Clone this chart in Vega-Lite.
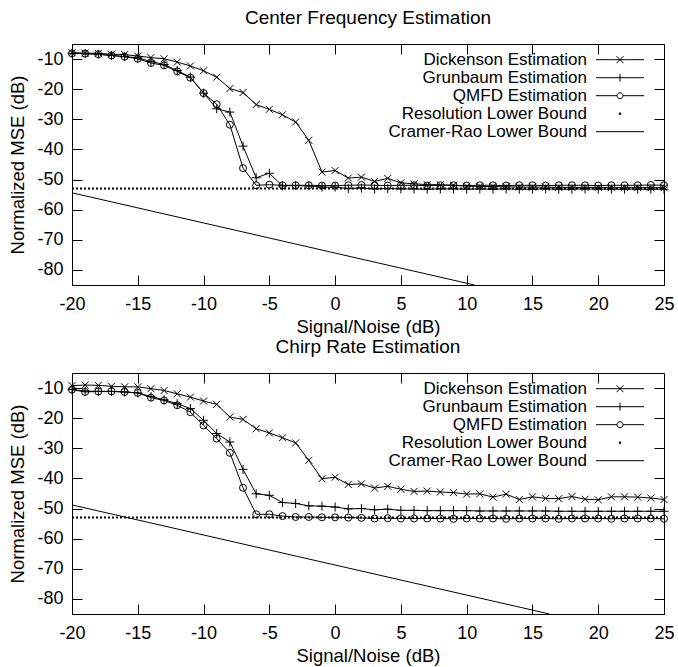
{
"$schema": "https://vega.github.io/schema/vega-lite/v6.json",
"padding": {"left": 8, "top": 8, "right": 5, "bottom": 5},
"spacing": 1,
"datasets": {"d": [
{"p":"cf","s":"D","x":-20,"y":-7.9},{"p":"cf","s":"D","x":-19,"y":-8.0},{"p":"cf","s":"D","x":-18,"y":-8.1},{"p":"cf","s":"D","x":-17,"y":-8.4},{"p":"cf","s":"D","x":-16,"y":-8.5},{"p":"cf","s":"D","x":-15,"y":-9.0},{"p":"cf","s":"D","x":-14,"y":-9.5},{"p":"cf","s":"D","x":-13,"y":-9.9},{"p":"cf","s":"D","x":-12,"y":-11.0},{"p":"cf","s":"D","x":-11,"y":-12.3},{"p":"cf","s":"D","x":-10,"y":-13.9},{"p":"cf","s":"D","x":-9,"y":-16.0},{"p":"cf","s":"D","x":-8,"y":-19.8},{"p":"cf","s":"D","x":-7,"y":-21.1},{"p":"cf","s":"D","x":-6,"y":-25.1},{"p":"cf","s":"D","x":-5,"y":-26.7},{"p":"cf","s":"D","x":-4,"y":-28.5},{"p":"cf","s":"D","x":-3,"y":-30.9},{"p":"cf","s":"D","x":-2,"y":-37.0},{"p":"cf","s":"D","x":-1,"y":-47.5},{"p":"cf","s":"D","x":0,"y":-47.0},{"p":"cf","s":"D","x":1,"y":-49.5},{"p":"cf","s":"D","x":2,"y":-49.2},{"p":"cf","s":"D","x":3,"y":-50.6},{"p":"cf","s":"D","x":4,"y":-49.6},{"p":"cf","s":"D","x":5,"y":-51.1},{"p":"cf","s":"D","x":6,"y":-51.4},{"p":"cf","s":"D","x":7,"y":-51.7},{"p":"cf","s":"D","x":8,"y":-51.7},{"p":"cf","s":"D","x":9,"y":-51.9},{"p":"cf","s":"D","x":10,"y":-52.2},{"p":"cf","s":"D","x":11,"y":-52.3},{"p":"cf","s":"D","x":12,"y":-52.3},{"p":"cf","s":"D","x":13,"y":-52.4},{"p":"cf","s":"D","x":14,"y":-52.5},{"p":"cf","s":"D","x":15,"y":-52.5},{"p":"cf","s":"D","x":16,"y":-52.5},{"p":"cf","s":"D","x":17,"y":-52.6},{"p":"cf","s":"D","x":18,"y":-52.6},{"p":"cf","s":"D","x":19,"y":-52.6},{"p":"cf","s":"D","x":20,"y":-52.6},{"p":"cf","s":"D","x":21,"y":-52.7},{"p":"cf","s":"D","x":22,"y":-52.7},{"p":"cf","s":"D","x":23,"y":-52.7},{"p":"cf","s":"D","x":24,"y":-52.7},{"p":"cf","s":"D","x":25,"y":-52.7},
{"p":"cf","s":"G","x":-20,"y":-8.1},{"p":"cf","s":"G","x":-19,"y":-8.2},{"p":"cf","s":"G","x":-18,"y":-8.4},{"p":"cf","s":"G","x":-17,"y":-8.8},{"p":"cf","s":"G","x":-16,"y":-9.2},{"p":"cf","s":"G","x":-15,"y":-9.6},{"p":"cf","s":"G","x":-14,"y":-10.8},{"p":"cf","s":"G","x":-13,"y":-11.8},{"p":"cf","s":"G","x":-12,"y":-13.8},{"p":"cf","s":"G","x":-11,"y":-16.0},{"p":"cf","s":"G","x":-10,"y":-21.3},{"p":"cf","s":"G","x":-9,"y":-26.5},{"p":"cf","s":"G","x":-8,"y":-27.6},{"p":"cf","s":"G","x":-7,"y":-38.9},{"p":"cf","s":"G","x":-6,"y":-49.4},{"p":"cf","s":"G","x":-5,"y":-47.9},{"p":"cf","s":"G","x":-4,"y":-52.1},{"p":"cf","s":"G","x":-3,"y":-52.0},{"p":"cf","s":"G","x":-2,"y":-52.1},{"p":"cf","s":"G","x":-1,"y":-52.5},{"p":"cf","s":"G","x":0,"y":-52.5},{"p":"cf","s":"G","x":1,"y":-53.0},{"p":"cf","s":"G","x":2,"y":-52.8},{"p":"cf","s":"G","x":3,"y":-53.1},{"p":"cf","s":"G","x":4,"y":-53.0},{"p":"cf","s":"G","x":5,"y":-53.1},{"p":"cf","s":"G","x":6,"y":-53.1},{"p":"cf","s":"G","x":7,"y":-53.2},{"p":"cf","s":"G","x":8,"y":-53.1},{"p":"cf","s":"G","x":9,"y":-53.1},{"p":"cf","s":"G","x":10,"y":-53.2},{"p":"cf","s":"G","x":11,"y":-53.1},{"p":"cf","s":"G","x":12,"y":-53.2},{"p":"cf","s":"G","x":13,"y":-53.1},{"p":"cf","s":"G","x":14,"y":-53.2},{"p":"cf","s":"G","x":15,"y":-53.2},{"p":"cf","s":"G","x":16,"y":-53.1},{"p":"cf","s":"G","x":17,"y":-53.2},{"p":"cf","s":"G","x":18,"y":-53.2},{"p":"cf","s":"G","x":19,"y":-53.1},{"p":"cf","s":"G","x":20,"y":-53.2},{"p":"cf","s":"G","x":21,"y":-53.2},{"p":"cf","s":"G","x":22,"y":-53.2},{"p":"cf","s":"G","x":23,"y":-53.2},{"p":"cf","s":"G","x":24,"y":-53.2},{"p":"cf","s":"G","x":25,"y":-53.2},
{"p":"cf","s":"Q","x":-20,"y":-8.1},{"p":"cf","s":"Q","x":-19,"y":-8.2},{"p":"cf","s":"Q","x":-18,"y":-8.4},{"p":"cf","s":"Q","x":-17,"y":-8.8},{"p":"cf","s":"Q","x":-16,"y":-9.2},{"p":"cf","s":"Q","x":-15,"y":-9.9},{"p":"cf","s":"Q","x":-14,"y":-11.3},{"p":"cf","s":"Q","x":-13,"y":-12.1},{"p":"cf","s":"Q","x":-12,"y":-14.1},{"p":"cf","s":"Q","x":-11,"y":-16.2},{"p":"cf","s":"Q","x":-10,"y":-21.3},{"p":"cf","s":"Q","x":-9,"y":-25.0},{"p":"cf","s":"Q","x":-8,"y":-31.8},{"p":"cf","s":"Q","x":-7,"y":-46.2},{"p":"cf","s":"Q","x":-6,"y":-51.9},{"p":"cf","s":"Q","x":-5,"y":-51.7},{"p":"cf","s":"Q","x":-4,"y":-51.9},{"p":"cf","s":"Q","x":-3,"y":-51.9},{"p":"cf","s":"Q","x":-2,"y":-51.9},{"p":"cf","s":"Q","x":-1,"y":-52.0},{"p":"cf","s":"Q","x":0,"y":-52.0},{"p":"cf","s":"Q","x":1,"y":-51.9},{"p":"cf","s":"Q","x":2,"y":-51.8},{"p":"cf","s":"Q","x":3,"y":-51.9},{"p":"cf","s":"Q","x":4,"y":-52.0},{"p":"cf","s":"Q","x":5,"y":-51.9},{"p":"cf","s":"Q","x":6,"y":-51.9},{"p":"cf","s":"Q","x":7,"y":-52.0},{"p":"cf","s":"Q","x":8,"y":-51.9},{"p":"cf","s":"Q","x":9,"y":-51.9},{"p":"cf","s":"Q","x":10,"y":-52.0},{"p":"cf","s":"Q","x":11,"y":-51.9},{"p":"cf","s":"Q","x":12,"y":-51.9},{"p":"cf","s":"Q","x":13,"y":-52.0},{"p":"cf","s":"Q","x":14,"y":-51.9},{"p":"cf","s":"Q","x":15,"y":-51.9},{"p":"cf","s":"Q","x":16,"y":-52.0},{"p":"cf","s":"Q","x":17,"y":-51.9},{"p":"cf","s":"Q","x":18,"y":-51.9},{"p":"cf","s":"Q","x":19,"y":-51.9},{"p":"cf","s":"Q","x":20,"y":-52.0},{"p":"cf","s":"Q","x":21,"y":-51.9},{"p":"cf","s":"Q","x":22,"y":-51.9},{"p":"cf","s":"Q","x":23,"y":-51.9},{"p":"cf","s":"Q","x":24,"y":-51.8},{"p":"cf","s":"Q","x":25,"y":-51.9},
{"p":"cf","s":"R","x":-20,"y":-53.0},{"p":"cf","s":"R","x":25,"y":-53.0},
{"p":"cf","s":"C","x":-20,"y":-54.4},{"p":"cf","s":"C","x":10.6,"y":-85.0},
{"p":"cr","s":"D","x":-20,"y":-9.2},{"p":"cr","s":"D","x":-19,"y":-9.0},{"p":"cr","s":"D","x":-18,"y":-9.1},{"p":"cr","s":"D","x":-17,"y":-9.4},{"p":"cr","s":"D","x":-16,"y":-9.6},{"p":"cr","s":"D","x":-15,"y":-9.6},{"p":"cr","s":"D","x":-14,"y":-10.2},{"p":"cr","s":"D","x":-13,"y":-10.8},{"p":"cr","s":"D","x":-12,"y":-11.9},{"p":"cr","s":"D","x":-11,"y":-13.0},{"p":"cr","s":"D","x":-10,"y":-14.3},{"p":"cr","s":"D","x":-9,"y":-15.4},{"p":"cr","s":"D","x":-8,"y":-19.6},{"p":"cr","s":"D","x":-7,"y":-20.4},{"p":"cr","s":"D","x":-6,"y":-23.5},{"p":"cr","s":"D","x":-5,"y":-24.9},{"p":"cr","s":"D","x":-4,"y":-26.5},{"p":"cr","s":"D","x":-3,"y":-28.2},{"p":"cr","s":"D","x":-2,"y":-34.0},{"p":"cr","s":"D","x":-1,"y":-40.1},{"p":"cr","s":"D","x":0,"y":-39.6},{"p":"cr","s":"D","x":1,"y":-42.0},{"p":"cr","s":"D","x":2,"y":-41.8},{"p":"cr","s":"D","x":3,"y":-43.2},{"p":"cr","s":"D","x":4,"y":-42.6},{"p":"cr","s":"D","x":5,"y":-43.6},{"p":"cr","s":"D","x":6,"y":-44.3},{"p":"cr","s":"D","x":7,"y":-44.2},{"p":"cr","s":"D","x":8,"y":-44.5},{"p":"cr","s":"D","x":9,"y":-44.7},{"p":"cr","s":"D","x":10,"y":-45.2},{"p":"cr","s":"D","x":11,"y":-45.1},{"p":"cr","s":"D","x":12,"y":-46.2},{"p":"cr","s":"D","x":13,"y":-45.2},{"p":"cr","s":"D","x":14,"y":-47.0},{"p":"cr","s":"D","x":15,"y":-46.1},{"p":"cr","s":"D","x":16,"y":-46.6},{"p":"cr","s":"D","x":17,"y":-46.7},{"p":"cr","s":"D","x":18,"y":-46.0},{"p":"cr","s":"D","x":19,"y":-46.9},{"p":"cr","s":"D","x":20,"y":-47.1},{"p":"cr","s":"D","x":21,"y":-46.1},{"p":"cr","s":"D","x":22,"y":-46.1},{"p":"cr","s":"D","x":23,"y":-46.2},{"p":"cr","s":"D","x":24,"y":-46.5},{"p":"cr","s":"D","x":25,"y":-47.0},
{"p":"cr","s":"G","x":-20,"y":-10.5},{"p":"cr","s":"G","x":-19,"y":-11.0},{"p":"cr","s":"G","x":-18,"y":-11.1},{"p":"cr","s":"G","x":-17,"y":-11.1},{"p":"cr","s":"G","x":-16,"y":-11.3},{"p":"cr","s":"G","x":-15,"y":-11.6},{"p":"cr","s":"G","x":-14,"y":-12.8},{"p":"cr","s":"G","x":-13,"y":-13.9},{"p":"cr","s":"G","x":-12,"y":-15.2},{"p":"cr","s":"G","x":-11,"y":-16.8},{"p":"cr","s":"G","x":-10,"y":-20.7},{"p":"cr","s":"G","x":-9,"y":-25.1},{"p":"cr","s":"G","x":-8,"y":-27.9},{"p":"cr","s":"G","x":-7,"y":-37.0},{"p":"cr","s":"G","x":-6,"y":-45.1},{"p":"cr","s":"G","x":-5,"y":-45.6},{"p":"cr","s":"G","x":-4,"y":-48.0},{"p":"cr","s":"G","x":-3,"y":-48.3},{"p":"cr","s":"G","x":-2,"y":-49.1},{"p":"cr","s":"G","x":-1,"y":-49.2},{"p":"cr","s":"G","x":0,"y":-49.5},{"p":"cr","s":"G","x":1,"y":-50.1},{"p":"cr","s":"G","x":2,"y":-50.0},{"p":"cr","s":"G","x":3,"y":-50.4},{"p":"cr","s":"G","x":4,"y":-50.2},{"p":"cr","s":"G","x":5,"y":-50.6},{"p":"cr","s":"G","x":6,"y":-50.6},{"p":"cr","s":"G","x":7,"y":-50.7},{"p":"cr","s":"G","x":8,"y":-50.7},{"p":"cr","s":"G","x":9,"y":-50.7},{"p":"cr","s":"G","x":10,"y":-50.7},{"p":"cr","s":"G","x":11,"y":-50.8},{"p":"cr","s":"G","x":12,"y":-50.8},{"p":"cr","s":"G","x":13,"y":-50.8},{"p":"cr","s":"G","x":14,"y":-50.8},{"p":"cr","s":"G","x":15,"y":-50.8},{"p":"cr","s":"G","x":16,"y":-50.8},{"p":"cr","s":"G","x":17,"y":-50.9},{"p":"cr","s":"G","x":18,"y":-50.9},{"p":"cr","s":"G","x":19,"y":-50.9},{"p":"cr","s":"G","x":20,"y":-50.9},{"p":"cr","s":"G","x":21,"y":-50.9},{"p":"cr","s":"G","x":22,"y":-50.9},{"p":"cr","s":"G","x":23,"y":-50.9},{"p":"cr","s":"G","x":24,"y":-50.9},{"p":"cr","s":"G","x":25,"y":-50.9},
{"p":"cr","s":"Q","x":-20,"y":-10.5},{"p":"cr","s":"Q","x":-19,"y":-11.3},{"p":"cr","s":"Q","x":-18,"y":-11.1},{"p":"cr","s":"Q","x":-17,"y":-11.1},{"p":"cr","s":"Q","x":-16,"y":-11.3},{"p":"cr","s":"Q","x":-15,"y":-11.6},{"p":"cr","s":"Q","x":-14,"y":-13.2},{"p":"cr","s":"Q","x":-13,"y":-14.1},{"p":"cr","s":"Q","x":-12,"y":-15.7},{"p":"cr","s":"Q","x":-11,"y":-18.0},{"p":"cr","s":"Q","x":-10,"y":-22.4},{"p":"cr","s":"Q","x":-9,"y":-26.8},{"p":"cr","s":"Q","x":-8,"y":-31.5},{"p":"cr","s":"Q","x":-7,"y":-43.1},{"p":"cr","s":"Q","x":-6,"y":-51.9},{"p":"cr","s":"Q","x":-5,"y":-51.9},{"p":"cr","s":"Q","x":-4,"y":-52.5},{"p":"cr","s":"Q","x":-3,"y":-52.8},{"p":"cr","s":"Q","x":-2,"y":-52.8},{"p":"cr","s":"Q","x":-1,"y":-52.9},{"p":"cr","s":"Q","x":0,"y":-52.9},{"p":"cr","s":"Q","x":1,"y":-53.0},{"p":"cr","s":"Q","x":2,"y":-53.1},{"p":"cr","s":"Q","x":3,"y":-53.3},{"p":"cr","s":"Q","x":4,"y":-53.2},{"p":"cr","s":"Q","x":5,"y":-53.3},{"p":"cr","s":"Q","x":6,"y":-53.3},{"p":"cr","s":"Q","x":7,"y":-53.3},{"p":"cr","s":"Q","x":8,"y":-53.3},{"p":"cr","s":"Q","x":9,"y":-53.4},{"p":"cr","s":"Q","x":10,"y":-53.3},{"p":"cr","s":"Q","x":11,"y":-53.3},{"p":"cr","s":"Q","x":12,"y":-53.3},{"p":"cr","s":"Q","x":13,"y":-53.4},{"p":"cr","s":"Q","x":14,"y":-53.3},{"p":"cr","s":"Q","x":15,"y":-53.3},{"p":"cr","s":"Q","x":16,"y":-53.3},{"p":"cr","s":"Q","x":17,"y":-53.4},{"p":"cr","s":"Q","x":18,"y":-53.3},{"p":"cr","s":"Q","x":19,"y":-53.3},{"p":"cr","s":"Q","x":20,"y":-53.3},{"p":"cr","s":"Q","x":21,"y":-53.4},{"p":"cr","s":"Q","x":22,"y":-53.3},{"p":"cr","s":"Q","x":23,"y":-53.3},{"p":"cr","s":"Q","x":24,"y":-53.3},{"p":"cr","s":"Q","x":25,"y":-53.4},
{"p":"cr","s":"R","x":-20,"y":-53.0},{"p":"cr","s":"R","x":25,"y":-53.0},
{"p":"cr","s":"C","x":-20,"y":-48.8},{"p":"cr","s":"C","x":16.3,"y":-85.0}
]},
"vconcat": [
{
"title": {"text": "Center Frequency Estimation"},
"width": 592, "height": 241,
"data": {"name": "d"},
"transform": [{"filter": "datum.p == 'cf'"}],
"resolve": {"axis": {"x": "independent", "y": "independent"}},
"layer": [
{"transform": [{"filter": "datum.s == 'D' || datum.s == 'G' || datum.s == 'Q'"}],
 "mark": {"type": "line", "color": "black", "strokeWidth": 1},
 "encoding": {
  "x": {"field": "x", "type": "quantitative", "scale": {"domain": [-20, 25], "nice": false, "zero": false}, "axis": {"title": "Signal/Noise (dB)", "values": [-20,-15,-10,-5,0,5,10,15,20,25], "ticks": false, "labelFlush": false, "labelOverlap": false, "labelExpr": "'' + datum.value"}},
  "y": {"field": "y", "type": "quantitative", "scale": {"domain": [-85, -5], "nice": false, "zero": false}, "axis": {"title": "Normalized MSE (dB)", "values": [-80,-70,-60,-50,-40,-30,-20,-10], "ticks": false, "labelOverlap": false, "labelExpr": "'' + datum.value"}},
  "detail": {"field": "s"}}},
{"transform": [{"filter": "datum.s == 'D'"}],
 "mark": {"type": "point", "shape": "M-1,-1L1,1M-1,1L1,-1", "size": 49, "filled": false, "color": "black", "strokeWidth": 1, "opacity": 1},
 "encoding": {
  "x": {"field": "x", "type": "quantitative", "scale": {"domain": [-20, 25], "nice": false, "zero": false}, "axis": {"orient": "top", "offset": -241, "labels": false, "title": null, "domain": false, "tickSize": 10, "values": [-20,-15,-10,-5,0,5,10,15,20,25]}},
  "y": {"field": "y", "type": "quantitative", "scale": {"domain": [-85, -5], "nice": false, "zero": false}, "axis": {"orient": "right", "offset": -592, "labels": false, "title": null, "domain": false, "tickSize": 10, "values": [-80,-70,-60,-50,-40,-30,-20,-10]}}}},
{"transform": [{"filter": "datum.s == 'G'"}],
 "mark": {"type": "point", "shape": "M-1,0H1M0,-1V1", "size": 81, "filled": false, "color": "black", "strokeWidth": 1, "opacity": 1},
 "encoding": {
  "x": {"field": "x", "type": "quantitative", "scale": {"domain": [-20, 25], "nice": false, "zero": false}, "axis": {"orient": "bottom", "offset": -241, "labels": false, "title": null, "domain": false, "tickSize": 10, "values": [-20,-15,-10,-5,0,5,10,15,20,25]}},
  "y": {"field": "y", "type": "quantitative", "scale": {"domain": [-85, -5], "nice": false, "zero": false}, "axis": {"orient": "left", "offset": -592, "labels": false, "title": null, "domain": false, "tickSize": 10, "values": [-80,-70,-60,-50,-40,-30,-20,-10]}}}},
{"transform": [{"filter": "datum.s == 'Q'"}],
 "mark": {"type": "point", "shape": "circle", "size": 49, "filled": false, "color": "black", "strokeWidth": 1, "opacity": 1},
 "encoding": {
  "x": {"field": "x", "type": "quantitative", "scale": {"domain": [-20, 25], "nice": false, "zero": false}, "axis": null},
  "y": {"field": "y", "type": "quantitative", "scale": {"domain": [-85, -5], "nice": false, "zero": false}, "axis": null}}},
{"transform": [{"filter": "datum.s == 'R'"}],
 "mark": {"type": "line", "color": "black", "strokeWidth": 2, "strokeDash": [2, 2]},
 "encoding": {
  "x": {"field": "x", "type": "quantitative", "scale": {"domain": [-20, 25], "nice": false, "zero": false}, "axis": null},
  "y": {"field": "y", "type": "quantitative", "scale": {"domain": [-85, -5], "nice": false, "zero": false}, "axis": null}}},
{"transform": [{"filter": "datum.s == 'C'"}],
 "mark": {"type": "line", "color": "black", "strokeWidth": 1},
 "encoding": {
  "x": {"field": "x", "type": "quantitative", "scale": {"domain": [-20, 25], "nice": false, "zero": false}, "axis": null},
  "y": {"field": "y", "type": "quantitative", "scale": {"domain": [-85, -5], "nice": false, "zero": false}, "axis": null}}},
{"mark": {"type": "point", "opacity": 0},
 "encoding": {
  "shape": {"field": "s", "type": "nominal",
   "scale": {"domain": ["D","G","Q","R","C"], "range": ["M-4.8,0H4.8M-0.7,-0.7L0.7,0.7M-0.7,0.7L0.7,-0.7", "M-4.8,0H4.8M0,-0.8V0.8", "M-4.8,0H-0.6A0.6,0.6,0,1,1,0.6,0H4.8M0.6,0A0.6,0.6,0,1,1,-0.6,0", "M-0.15,-0.15H0.15V0.15H-0.15Z", "M-4.8,0H4.8"]},
   "legend": {"title": null, "orient": "none", "legendX": 539.5, "legendY": 7.2, "padding": 0, "rowPadding": 0, "labelAlign": "right", "labelOffset": -41.5, "symbolSize": 100, "symbolStrokeColor": "black", "symbolStrokeWidth": 1, "symbolFillColor": "transparent", "symbolOpacity": 1, "labelFontSize": 17, "labelFont": "Liberation Sans", "labelColor": "black", "labelLimit": 400,
    "labelExpr": "datum.label == 'D' ? 'Dickenson Estimation' : datum.label == 'G' ? 'Grunbaum Estimation' : datum.label == 'Q' ? 'QMFD Estimation' : datum.label == 'R' ? 'Resolution Lower Bound' : 'Cramer-Rao Lower Bound'"}}}}
]
},
{
"title": {"text": "Chirp Rate Estimation"},
"width": 592, "height": 241,
"data": {"name": "d"},
"transform": [{"filter": "datum.p == 'cr'"}],
"resolve": {"axis": {"x": "independent", "y": "independent"}},
"layer": [
{"transform": [{"filter": "datum.s == 'D' || datum.s == 'G' || datum.s == 'Q'"}],
 "mark": {"type": "line", "color": "black", "strokeWidth": 1},
 "encoding": {
  "x": {"field": "x", "type": "quantitative", "scale": {"domain": [-20, 25], "nice": false, "zero": false}, "axis": {"title": "Signal/Noise (dB)", "values": [-20,-15,-10,-5,0,5,10,15,20,25], "ticks": false, "labelFlush": false, "labelOverlap": false, "labelExpr": "'' + datum.value"}},
  "y": {"field": "y", "type": "quantitative", "scale": {"domain": [-85, -5], "nice": false, "zero": false}, "axis": {"title": "Normalized MSE (dB)", "values": [-80,-70,-60,-50,-40,-30,-20,-10], "ticks": false, "labelOverlap": false, "labelExpr": "'' + datum.value"}},
  "detail": {"field": "s"}}},
{"transform": [{"filter": "datum.s == 'D'"}],
 "mark": {"type": "point", "shape": "M-1,-1L1,1M-1,1L1,-1", "size": 49, "filled": false, "color": "black", "strokeWidth": 1, "opacity": 1},
 "encoding": {
  "x": {"field": "x", "type": "quantitative", "scale": {"domain": [-20, 25], "nice": false, "zero": false}, "axis": {"orient": "top", "offset": -241, "labels": false, "title": null, "domain": false, "tickSize": 10, "values": [-20,-15,-10,-5,0,5,10,15,20,25]}},
  "y": {"field": "y", "type": "quantitative", "scale": {"domain": [-85, -5], "nice": false, "zero": false}, "axis": {"orient": "right", "offset": -592, "labels": false, "title": null, "domain": false, "tickSize": 10, "values": [-80,-70,-60,-50,-40,-30,-20,-10]}}}},
{"transform": [{"filter": "datum.s == 'G'"}],
 "mark": {"type": "point", "shape": "M-1,0H1M0,-1V1", "size": 81, "filled": false, "color": "black", "strokeWidth": 1, "opacity": 1},
 "encoding": {
  "x": {"field": "x", "type": "quantitative", "scale": {"domain": [-20, 25], "nice": false, "zero": false}, "axis": {"orient": "bottom", "offset": -241, "labels": false, "title": null, "domain": false, "tickSize": 10, "values": [-20,-15,-10,-5,0,5,10,15,20,25]}},
  "y": {"field": "y", "type": "quantitative", "scale": {"domain": [-85, -5], "nice": false, "zero": false}, "axis": {"orient": "left", "offset": -592, "labels": false, "title": null, "domain": false, "tickSize": 10, "values": [-80,-70,-60,-50,-40,-30,-20,-10]}}}},
{"transform": [{"filter": "datum.s == 'Q'"}],
 "mark": {"type": "point", "shape": "circle", "size": 49, "filled": false, "color": "black", "strokeWidth": 1, "opacity": 1},
 "encoding": {
  "x": {"field": "x", "type": "quantitative", "scale": {"domain": [-20, 25], "nice": false, "zero": false}, "axis": null},
  "y": {"field": "y", "type": "quantitative", "scale": {"domain": [-85, -5], "nice": false, "zero": false}, "axis": null}}},
{"transform": [{"filter": "datum.s == 'R'"}],
 "mark": {"type": "line", "color": "black", "strokeWidth": 2, "strokeDash": [2, 2]},
 "encoding": {
  "x": {"field": "x", "type": "quantitative", "scale": {"domain": [-20, 25], "nice": false, "zero": false}, "axis": null},
  "y": {"field": "y", "type": "quantitative", "scale": {"domain": [-85, -5], "nice": false, "zero": false}, "axis": null}}},
{"transform": [{"filter": "datum.s == 'C'"}],
 "mark": {"type": "line", "color": "black", "strokeWidth": 1},
 "encoding": {
  "x": {"field": "x", "type": "quantitative", "scale": {"domain": [-20, 25], "nice": false, "zero": false}, "axis": null},
  "y": {"field": "y", "type": "quantitative", "scale": {"domain": [-85, -5], "nice": false, "zero": false}, "axis": null}}},
{"mark": {"type": "point", "opacity": 0},
 "encoding": {
  "shape": {"field": "s", "type": "nominal",
   "scale": {"domain": ["D","G","Q","R","C"], "range": ["M-4.8,0H4.8M-0.7,-0.7L0.7,0.7M-0.7,0.7L0.7,-0.7", "M-4.8,0H4.8M0,-0.8V0.8", "M-4.8,0H-0.6A0.6,0.6,0,1,1,0.6,0H4.8M0.6,0A0.6,0.6,0,1,1,-0.6,0", "M-0.15,-0.15H0.15V0.15H-0.15Z", "M-4.8,0H4.8"]},
   "legend": {"title": null, "orient": "none", "legendX": 539.5, "legendY": 7.2, "padding": 0, "rowPadding": 0, "labelAlign": "right", "labelOffset": -41.5, "symbolSize": 100, "symbolStrokeColor": "black", "symbolStrokeWidth": 1, "symbolFillColor": "transparent", "symbolOpacity": 1, "labelFontSize": 17, "labelFont": "Liberation Sans", "labelColor": "black", "labelLimit": 400,
    "labelExpr": "datum.label == 'D' ? 'Dickenson Estimation' : datum.label == 'G' ? 'Grunbaum Estimation' : datum.label == 'Q' ? 'QMFD Estimation' : datum.label == 'R' ? 'Resolution Lower Bound' : 'Cramer-Rao Lower Bound'"}}}}
]
}
],
"resolve": {"scale": {"shape": "independent"}, "legend": {"shape": "independent"}},
"config": {
 "font": "Liberation Sans",
 "background": "white",
 "view": {"stroke": "black", "strokeWidth": 1},
 "axis": {"grid": false, "tickColor": "black", "tickWidth": 1, "domainColor": "black", "domainWidth": 1, "labelFont": "Liberation Sans", "labelFontSize": 18, "labelColor": "black", "titleFont": "Liberation Sans", "titleFontSize": 18.5, "titleFontWeight": "normal", "titleColor": "black"},
 "axisX": {"labelPadding": 10, "titlePadding": 4},
 "axisY": {"labelPadding": 9, "titlePadding": 9},
 "title": {"font": "Liberation Sans", "fontSize": 19, "fontWeight": "normal", "color": "black", "anchor": "middle", "frame": "group", "offset": 16}
}
}
